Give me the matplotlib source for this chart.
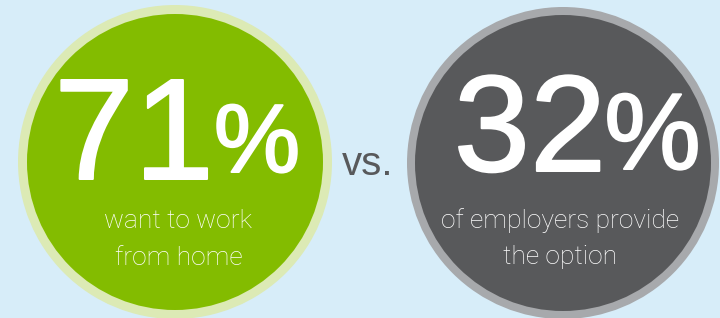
import matplotlib
matplotlib.use("Agg")
import matplotlib.pyplot as plt
from matplotlib.patches import Circle
from matplotlib.textpath import TextPath
from matplotlib.font_manager import FontProperties
import matplotlib.patheffects as pe

# ---- data ----
percents = [71, 32]
captions = [["want to work", "from home"], ["of employers provide", "the option"]]
connector = "vs."

# ---- styles / layout (pixels) ----
BG = "#D7EDF9"
fills = ["#83BC00", "#58595B"]
rings = ["#DCEAB5", "#A7A9AC"]
centers = [(175, 162), (563, 163)]
outer_r = [157, 156]
inner_r = [148, 148]
# ink centre x, baseline and ink height of the number and of the % sign
num_cx = [134, 530]
digit_base = [180, 172]
digit_h = [101, 99]
pct_cx = [257, 652.5]
pct_base = [173, 170]
pct_h = [70, 78]
cap_x = [178.5, 560]
cap_base = [[228, 265], [228, 264]]
STROKE_PX = 2.0

W, H = 720, 318
DPI = 100
fig = plt.figure(figsize=(W / DPI, H / DPI), dpi=DPI, facecolor=BG)
ax = fig.add_axes([0, 0, 1, 1])
ax.set_xlim(0, W)
ax.set_ylim(H, 0)
ax.set_aspect("equal")
ax.axis("off")
ax.set_facecolor(BG)

bigfam = ["Liberation Sans", "DejaVu Sans"]
fp = FontProperties(family=bigfam)


def fitted_size(s, ink_h):
    ext = TextPath((0, 0), s, size=100, prop=fp).get_extents()
    px = (ink_h - STROKE_PX) / ext.height * 100
    return px * 72 / DPI


def big_text(s, x, yb, fs):
    ax.text(x, yb - STROKE_PX / 2, s, fontsize=fs, ha="center", va="baseline",
            family=bigfam, color="white",
            path_effects=[pe.withStroke(linewidth=STROKE_PX * 72 / DPI, foreground="white")])


cap = dict(family=["Roboto", "Liberation Sans", "DejaVu Sans"], weight="light", color="white")

for i, p in enumerate(percents):
    cx, cy = centers[i]
    ax.add_patch(Circle((cx, cy), outer_r[i], color=rings[i], lw=0))
    ax.add_patch(Circle((cx, cy), inner_r[i], color=fills[i], lw=0))
    digits = str(p)
    big_text(digits, num_cx[i], digit_base[i], fitted_size(digits, digit_h[i]))
    big_text("%", pct_cx[i], pct_base[i], fitted_size("%", pct_h[i]))
    for line, yb in zip(captions[i], cap_base[i]):
        ax.text(cap_x[i], yb, line, fontsize=19, ha="center", va="baseline", **cap)

ax.text(368, 175, connector, fontsize=29, ha="center", va="baseline",
        family=bigfam, color="#58595B")

fig.savefig("out.png", dpi=DPI, facecolor=BG)
